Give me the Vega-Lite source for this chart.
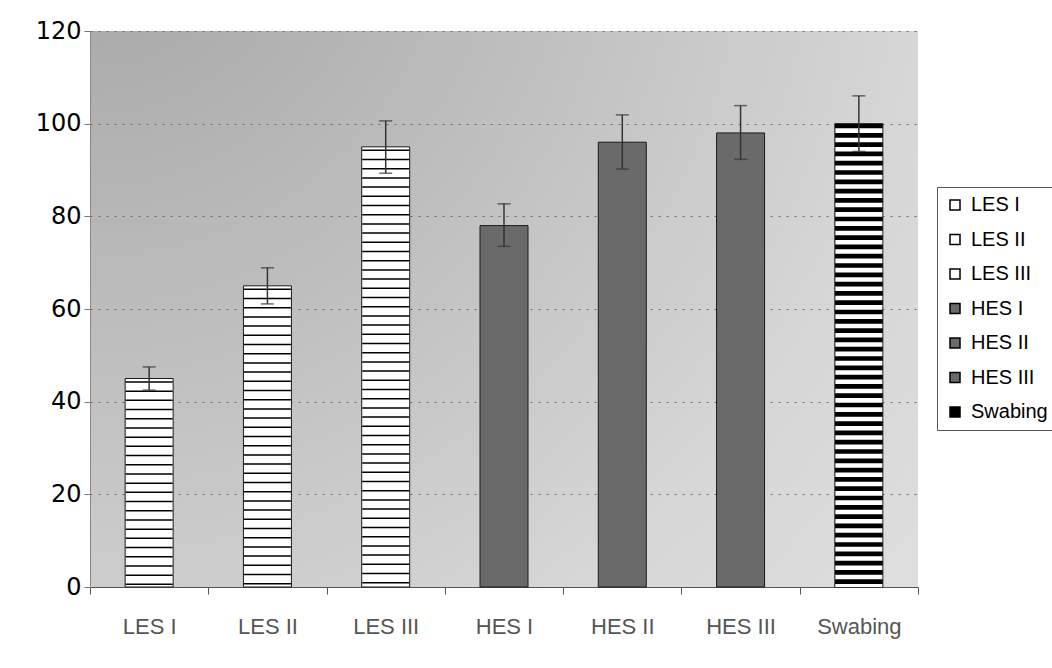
{
  "$schema": "https://vega.github.io/schema/vega-lite/v6.json",
  "width": 828,
  "height": 556,
  "autosize": {"type": "none"},
  "padding": {"left": 90, "top": 31, "right": 134, "bottom": 81},
  "background": "white",
  "view": {
    "stroke": null,
    "fill": {
      "gradient": "radial",
      "x1": 0, "y1": 0, "r1": 0,
      "x2": 0, "y2": 0, "r2": 1.4,
      "stops": [
        {"offset": 0, "color": "#a4a4a4"},
        {"offset": 0.4, "color": "#bfbfbf"},
        {"offset": 0.72, "color": "#d6d6d6"},
        {"offset": 1, "color": "#e1e1e1"}
      ]
    }
  },
  "data": {
    "values": [
      {"group": "LES I", "value": 45, "lo": 42.5, "hi": 47.5},
      {"group": "LES II", "value": 65, "lo": 61.1, "hi": 68.9},
      {"group": "LES III", "value": 95, "lo": 89.3, "hi": 100.6},
      {"group": "HES I", "value": 78, "lo": 73.5, "hi": 82.7},
      {"group": "HES II", "value": 96, "lo": 90.2, "hi": 101.9},
      {"group": "HES III", "value": 98, "lo": 92.3, "hi": 103.9},
      {"group": "Swabing", "value": 100, "lo": 94, "hi": 106}
    ]
  },
  "layer": [
    {
      "mark": {"type": "bar", "size": 48, "stroke": "#1a1a1a", "strokeWidth": 1},
      "encoding": {
        "x": {
          "field": "group", "type": "nominal",
          "scale": {"domain": ["LES I", "LES II", "LES III", "HES I", "HES II", "HES III", "Swabing"], "paddingInner": 0, "paddingOuter": 0},
          "axis": {
            "title": null, "tickBand": "extent", "tickSize": 7, "tickColor": "#555",
            "domainColor": "#555", "labelFont": "Liberation Sans", "labelFontSize": 22,
            "labelColor": "#555", "labelPadding": 22, "labelAngle": 0, "grid": false
          }
        },
        "y": {
          "field": "value", "type": "quantitative",
          "scale": {"domain": [0, 120], "nice": false},
          "axis": {
            "title": null, "values": [0, 20, 40, 60, 80, 100, 120],
            "grid": true, "gridColor": "#6a6a6a", "gridDash": [2, 6], "gridWidth": 1,
            "domain": true, "domainColor": "#888", "tickColor": "#777", "tickSize": 6,
            "labelFont": "DejaVu Sans", "labelFontSize": 24, "labelColor": "#000", "labelPadding": 3
          }
        },
        "fill": {
          "field": "group", "type": "nominal",
          "scale": {
            "domain": ["LES I", "LES II", "LES III", "HES I", "HES II", "HES III", "Swabing"],
            "range": ["#ffffff", "#ffffff", "#ffffff", "#6a6a6a", "#6a6a6a", "#6a6a6a", "#000000"]
          },
          "legend": {
            "title": null, "orient": "none", "legendX": 847, "legendY": 156,
            "strokeColor": "#555", "fillColor": "white", "padding": 8,
            "symbolType": "square", "symbolSize": 100, "symbolStrokeColor": "#000", "symbolStrokeWidth": 1.5,
            "labelFont": "Liberation Sans", "labelFontSize": 20, "labelColor": "#000",
            "rowPadding": 14.5, "labelOffset": 6
          }
        }
      }
    },
    {
      "transform": [{"filter": {"field": "group", "oneOf": ["LES I", "LES II", "LES III"]}}],
      "mark": {"type": "rule", "strokeWidth": 47, "strokeDash": [1.5, 7.7], "strokeDashOffset": 6.5, "color": "#000", "strokeCap": "butt"},
      "encoding": {
        "x": {"field": "group", "type": "nominal"},
        "y": {"field": "value", "type": "quantitative"},
        "y2": {"datum": 0}
      }
    },
    {
      "transform": [{"filter": {"field": "group", "equal": "Swabing"}}],
      "mark": {"type": "rule", "strokeWidth": 47, "strokeDash": [4.6, 4.7], "strokeDashOffset": 4.6, "color": "#ffffff", "strokeCap": "butt"},
      "encoding": {
        "x": {"field": "group", "type": "nominal"},
        "y": {"field": "value", "type": "quantitative"},
        "y2": {"datum": 0}
      }
    },
    {
      "mark": {"type": "errorbar", "ticks": {"size": 13, "color": "#333", "thickness": 1.5}, "rule": {"color": "#333", "strokeWidth": 1.5}},
      "encoding": {
        "x": {"field": "group", "type": "nominal"},
        "y": {"field": "lo", "type": "quantitative", "title": null},
        "y2": {"field": "hi"}
      }
    }
  ]
}
